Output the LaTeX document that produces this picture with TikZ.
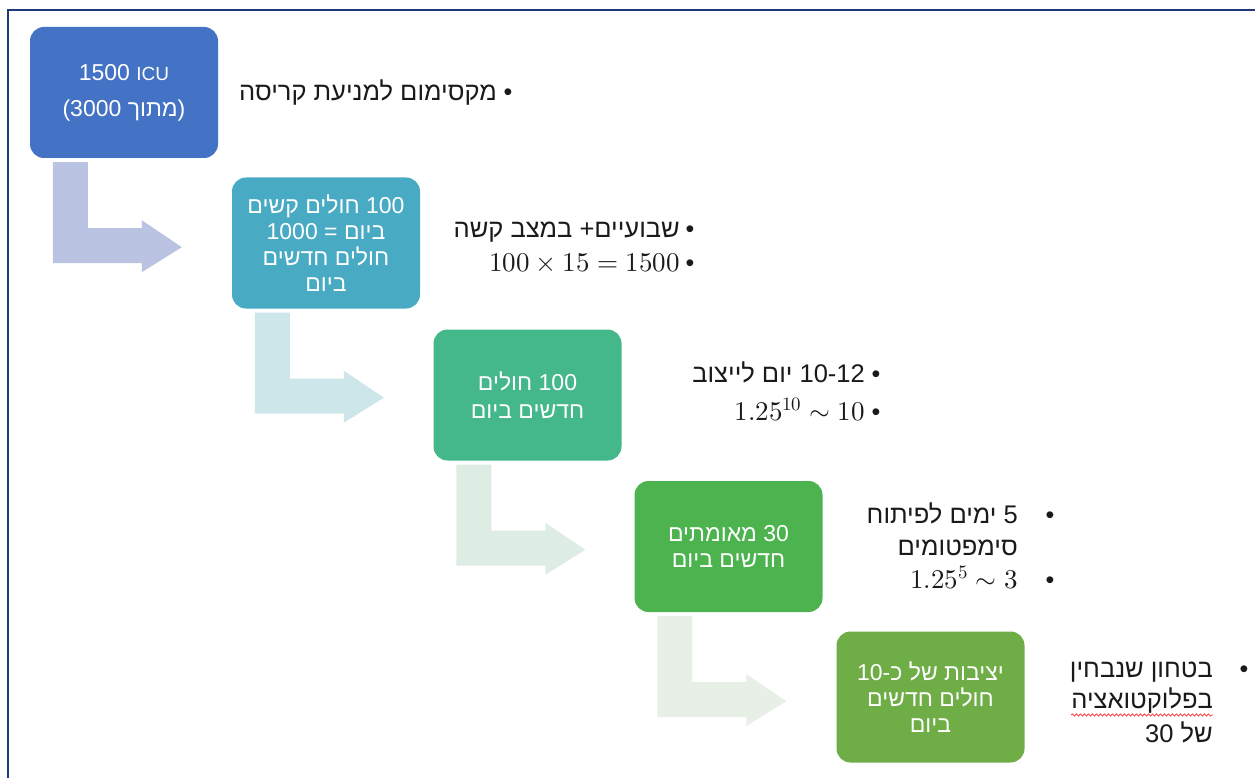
\documentclass[tikz,border=0pt]{standalone}
\usepackage{fontspec}
\usepackage{unicode-math}
\setmainfont{Liberation Sans}
\setmathfont{Latin Modern Math}
\newfontfamily\heb[Script=Hebrew]{Liberation Sans}
\TeXXeTstate=1
\usetikzlibrary{decorations.pathmorphing}
\newcommand\hR[1]{{\heb\beginR #1\endR}}
\definecolor{framec}{HTML}{1F3A7A}
\definecolor{txt}{HTML}{1A1A1A}
\definecolor{c1}{HTML}{4472C4}
\definecolor{c2}{HTML}{48AAC3}
\definecolor{c3}{HTML}{44B88A}
\definecolor{c4}{HTML}{4DB34F}
\definecolor{c5}{HTML}{6FAD47}
\definecolor{a1}{HTML}{BAC4E2}
\definecolor{a2}{HTML}{CDE6EA}
\definecolor{a3}{HTML}{DDEDE4}
\definecolor{a4}{HTML}{E8EFE6}
\begin{document}
\begin{tikzpicture}[x=1pt,y=-1pt,
  box/.style={rounded corners=14pt, minimum width=188pt, minimum height=131pt, inner sep=0pt, text=white, align=center, font=\fontsize{23}{26}\selectfont},
  side/.style={anchor=base east, inner sep=0pt, text=txt, font=\fontsize{25.5}{28}\selectfont},
  mside/.style={anchor=base east, inner sep=0pt, text=txt, font=\fontsize{27}{30}\selectfont},
  bul/.style={anchor=base, inner sep=0pt, text=txt, font=\fontsize{25}{28}\selectfont},
  wave/.style={draw=red!75, line width=0.8pt, decorate, decoration={snake, amplitude=1.1pt, segment length=4pt}}
]
\useasboundingbox (0,0) rectangle (1255,778);
\fill[white] (0,0) rectangle (1255,778);
\draw[framec, line width=2.5pt] (8,778) -- (8,10) -- (1255,10);

% boxes
\node[box, fill=c1, font=\fontsize{23}{36}\selectfont] (b1) at (124,92.5) {1500 {\fontsize{19}{20}\selectfont ICU}\\(3000 \hR{מתוך})};
\node[box, fill=c2] (b2) at (326,243) {\hR{חולים קשים} 100\\1000 = \hR{ביום}\\\hR{חולים חדשים}\\\hR{ביום}};
\node[box, fill=c3] (b3) at (527.5,395) {\hR{חולים} 100\\[2pt]\hR{חדשים ביום}};
\node[box, fill=c4] (b4) at (728.5,546.5) {\hR{מאומתים} 30\\\hR{חדשים ביום}};
\node[box, fill=c5] (b5) at (930.5,697) {10-\hR{יציבות של כ}\\\hR{חולים חדשים}\\\hR{ביום}};

% bent arrows
\foreach \b/\c in {b1/a1, b2/a2, b3/a3, b4/a4}{
  \fill[\c, shift={(\b.south west)}] (23,4) -- (58,4) -- (58,70) -- (112,70) -- (112,62) -- (152,89) -- (112,114) -- (112,105) -- (23,105) -- cycle;
}

% side texts
\node[side] (t1) at (497,101) {\hR{מקסימום למניעת קריסה}};
\node[bul] (p1) at (508,101) {•};

\node[side] (t2a) at (680,237) {\hR{במצב קשה}\ +\hR{שבועיים}};
\node[bul] (p2a) at (690,237) {•};
\node[mside] (t2b) at (680,271) {$100\times 15=1500$};
\node[bul] (p2b) at (690,271) {•};

\node[side] (t3a) at (865,382) {\hR{יום לייצוב} 10-12};
\node[bul] (p3a) at (876,382) {•};
\node[mside] (t3b) at (865,420) {$1.25^{10}\sim 10$};
\node[bul] (p3b) at (876,420) {•};

\node[side] (t4a) at (1018,523) {\hR{ימים לפיתוח} 5};
\node[bul] (p4a) at (1050,523) {•};
\node[side] (t4b) at (1018,555) {\hR{סימפטומים}};
\node[mside] (t4c) at (1018,588) {$1.25^{5}\sim 3$};
\node[bul] (p4c) at (1050,588) {•};

\node[side] (t5a) at (1213,677) {\hR{בטחון שנבחין}};
\node[bul] (p5a) at (1244,677) {•};
\node[side] (t5b) at (1213,708) {\hR{בפלוקטואציה}};
\node[side] (t5c) at (1213,742) {30 \hR{של}};
\draw[wave] ([yshift=-7pt]t5b.base west) -- ([yshift=-7pt]t5b.base east);
\end{tikzpicture}
\end{document}
